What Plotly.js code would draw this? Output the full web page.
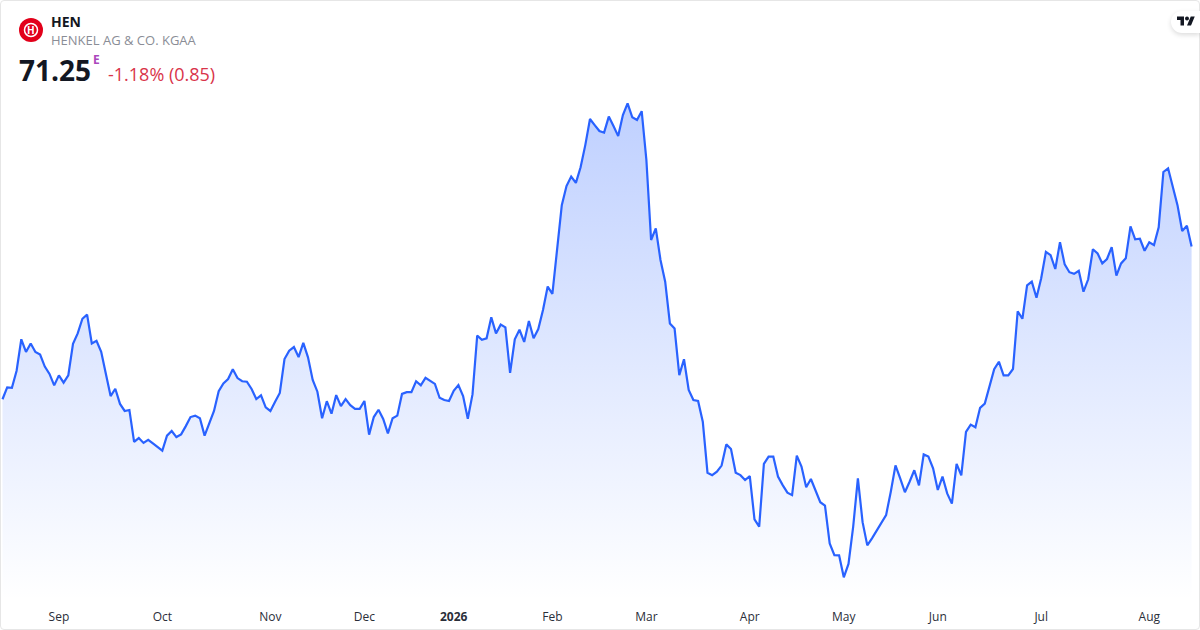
<!DOCTYPE html>
<html>
<head>
<meta charset="utf-8">
<script src="https://cdn.plot.ly/plotly-3.0.1.min.js"></script>
<style>
html,body{margin:0;padding:0;background:#fff;width:1200px;height:630px;overflow:hidden}
#chart{position:absolute;left:0;top:0;width:1200px;height:630px}
#frame{position:absolute;left:0;top:0;width:1198px;height:628px;border:1px solid #e6e6e6;border-radius:4px;pointer-events:none}
#tab{position:absolute;left:1171px;top:11px;width:29px;height:22px;background:#fff;border-radius:11px 0 0 11px;box-shadow:0 2px 5px rgba(0,0,0,.14)}
#tab svg{position:absolute;left:6px;top:5px}
</style>
</head>
<body>
<div id="chart"></div>
<div id="frame"></div>
<div id="tab"><svg width="18" height="10" viewBox="0 4 36 18"><path fill="#131722" d="M14 22H7V11H0V4h14v18zM28 22h-8l7.5-18h8L28 22z"/><circle fill="#131722" cx="20" cy="8" r="4"/></svg></div>
<script>
const symbol = "HEN";
const company = "HENKEL AG & CO. KGAA";
const lastPrice = "71.25";
const changeText = "-1.18% (0.85)";
const tickIndex = [12, 34, 57, 77, 96, 117, 137, 159, 179, 199, 221, 244];
const tickLabels = ["Sep", "Oct", "Nov", "Dec", "<b>2026</b>", "Feb", "Mar", "Apr", "May", "Jun", "Jul", "Aug"];
const closes = [
64.99,65.48,65.46,66.16,67.45,66.93,67.28,66.93,66.82,66.33,66.03,65.56,65.97,65.67,65.97,67.26,67.69,68.29,68.46,67.28,
67.39,66.94,66.03,65.12,65.42,64.80,64.51,64.55,63.24,63.40,63.20,63.33,63.18,63.03,62.88,63.50,63.69,63.44,63.55,63.89,
64.26,64.32,64.21,63.50,64.00,64.51,65.32,65.64,65.82,66.22,65.86,65.73,65.71,65.41,65.00,65.15,64.66,64.51,64.89,65.25,
66.64,66.98,67.13,66.72,67.30,66.71,65.78,65.30,64.21,64.91,64.40,65.16,64.71,65.00,64.75,64.60,64.60,64.92,63.54,64.26,
64.56,64.18,63.59,64.21,64.32,65.21,65.28,65.28,65.73,65.56,65.87,65.73,65.62,65.05,64.96,64.92,65.34,65.57,65.12,64.19,
65.19,67.60,67.43,67.49,68.35,67.69,68.05,67.94,66.07,67.45,67.84,67.34,68.20,67.49,67.87,68.65,69.61,69.31,71.25,72.95,
73.73,74.12,73.86,74.50,75.41,76.48,76.23,75.99,75.92,76.58,76.19,75.78,76.64,77.12,76.55,76.44,76.80,74.80,71.52,72.00,
70.70,69.81,68.10,67.89,65.98,66.63,65.37,64.96,64.92,64.07,61.98,61.88,62.02,62.27,63.14,62.95,61.98,61.88,61.68,61.84,
60.07,59.77,62.34,62.64,62.64,61.82,61.47,61.16,61.06,62.68,62.23,61.38,61.72,61.24,60.77,60.63,59.08,58.60,58.59,57.69,
58.24,59.77,61.75,59.95,59.00,59.29,59.60,59.95,60.24,61.20,62.28,61.75,61.18,61.61,62.08,61.46,62.73,62.64,62.16,61.27,
61.82,61.13,60.71,62.34,61.87,63.65,63.95,63.84,64.64,64.81,65.57,66.22,66.53,65.97,65.97,66.23,68.60,68.29,69.66,69.81,
69.15,69.95,71.03,70.90,70.33,71.43,70.52,70.20,70.13,70.26,69.40,69.91,71.14,70.97,70.56,70.74,71.23,70.06,70.56,70.77,
72.08,71.55,71.57,71.08,71.43,71.31,72.04,74.31,74.46,73.71,72.95,71.89,72.10,71.25
];

const xs = closes.map((_, i) => i);
const W = 1200, PH = 600;
const px = x => x / W;
const py = y => 1 - y / PH;
const font = '"Open Sans", sans-serif';
const text = (x, y, t, size, color, extra) => Object.assign({
  xref: 'paper', yref: 'paper', x: px(x), y: py(y), text: t, showarrow: false,
  xanchor: 'left', yanchor: 'middle', align: 'left', borderpad: 0,
  font: {family: font, size: size, color: color}
}, extra || {});

Plotly.newPlot('chart', [{
  x: xs, y: closes, type: 'scatter', mode: 'lines',
  line: {color: '#2962ff', width: 2.2, shape: 'linear'},
  fill: 'tozeroy',
  fillcolor: 'rgba(41,98,255,0.15)',
  fillgradient: {type: 'vertical', start: 56.76, stop: 77.17,
    colorscale: [[0, 'rgba(41,98,255,0)'], [1, 'rgba(41,98,255,0.3)']]},
  hoverinfo: 'skip'
}], {
  width: 1200, height: 630,
  margin: {l: 0, r: 0, t: 0, b: 30, pad: 0},
  paper_bgcolor: '#fff', plot_bgcolor: '#fff',
  showlegend: false, hovermode: false,
  xaxis: {range: [-0.532, 254.79], showgrid: false, zeroline: false, showline: false,
    tickmode: 'array', tickvals: tickIndex, ticktext: tickLabels,
    ticks: 'outside', ticklen: 6, tickcolor: 'rgba(0,0,0,0)', tickfont: {family: font, size: 12, color: '#2a2e39'}},
  yaxis: {range: [56.76, 81.36], showgrid: false, zeroline: false, showline: false, showticklabels: false, ticks: ''},
  shapes: [
    {type: 'circle', xref: 'paper', yref: 'paper', x0: px(19), x1: px(43), y0: py(42), y1: py(18), fillcolor: '#e2001a', line: {width: 0}},
    {type: 'circle', xref: 'paper', yref: 'paper', x0: px(24.5), x1: px(37.5), y0: py(36.5), y1: py(23.5), fillcolor: 'rgba(0,0,0,0)', line: {width: 1.5, color: '#fff'}}
  ],
  annotations: [
    text(31, 30, '<b>H</b>', 10, '#fff', {xanchor: 'center'}),
    text(50, 21, '<b>' + symbol + '</b>', 14, '#131722'),
    text(50, 40, company, 13, '#8a8d96'),
    text(18, 70, '<b>' + lastPrice + '</b>', 28, '#131722'),
    text(92, 60, '<b>E</b>', 12, '#ab47bc'),
    text(107, 74, changeText, 18, '#d9344a')
  ]
}, {staticPlot: true, displayModeBar: false});
</script>
</body>
</html>
